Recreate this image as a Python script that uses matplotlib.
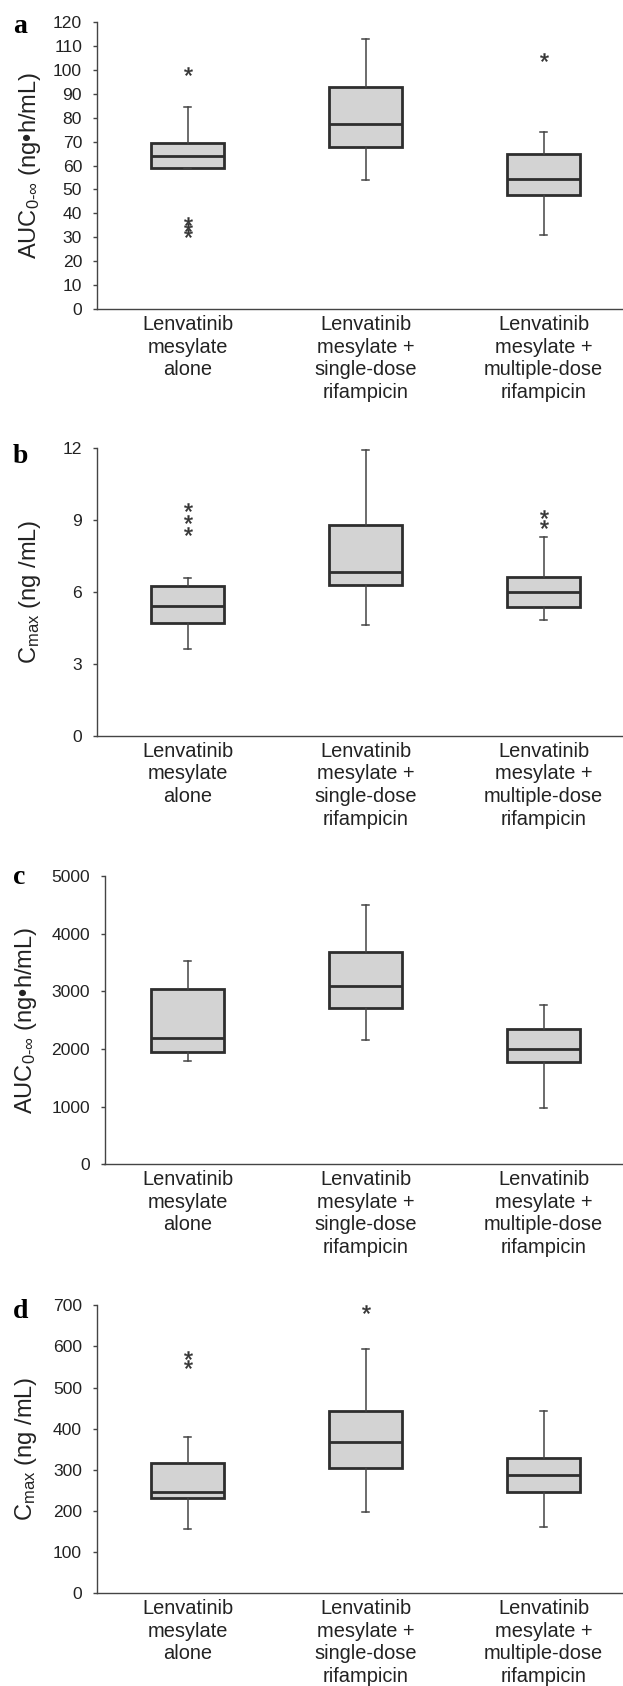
import matplotlib
matplotlib.use("Agg")
import matplotlib.pyplot as plt

plt.rcParams["font.family"] = ["Liberation Sans", "DejaVu Sans"]
plt.rcParams["mathtext.fontset"] = "custom"
plt.rcParams["mathtext.rm"] = "Liberation Sans"
plt.rcParams["mathtext.it"] = "Liberation Sans:italic"
plt.rcParams["mathtext.bf"] = "Liberation Sans:bold"

groups = ["Lenvatinib\nmesylate\nalone",
          "Lenvatinib\nmesylate +\nsingle-dose\nrifampicin",
          "Lenvatinib\nmesylate +\nmultiple-dose\nrifampicin"]

# a: AUC0-inf (ng*h/mL)
a_lo = [59.1, 53.9, 30.9]
a_q1 = [59.1, 67.6, 47.8]
a_med = [63.8, 77.3, 54.5]
a_q3 = [69.5, 92.6, 64.8]
a_hi = [84.3, 112.6, 73.8]
a_out = [[99.3, 37.0, 34.5, 32.0], [], [105.4]]

# b: Cmax (ng/mL)
b_lo = [3.64, 4.63, 4.84]
b_q1 = [4.73, 6.30, 5.40]
b_med = [5.44, 6.86, 5.99]
b_q3 = [6.24, 8.79, 6.62]
b_hi = [6.59, 11.93, 8.32]
b_out = [[9.57, 9.04, 8.53], [], [9.25, 8.85]]

# c: AUC0-inf (ng*h/mL)
c_lo = [1792, 2150, 971]
c_q1 = [1954, 2717, 1769]
c_med = [2191, 3087, 1994]
c_q3 = [3040, 3682, 2341]
c_hi = [3532, 4497, 2757]
c_out = [[], [], []]

# d: Cmax (ng/mL)
d_lo = [155.6, 197, 161]
d_q1 = [231, 304.7, 245.5]
d_med = [246.4, 367, 287]
d_q3 = [317.6, 443.3, 329]
d_hi = [379, 594, 443]
d_out = [[578.6, 557.5], [692], []]

auc_label = r"AUC$_{0\text{-}\infty}$ (ng•h/mL)"
cmax_label = r"C$_{\mathrm{max}}$ (ng /mL)"

W, H = 623, 1686
# letter, data, ylabel, yticks, spine x px, top px, bottom px, ylabel baseline x px, letter baseline px
panels = [
    ("a", (a_lo, a_q1, a_med, a_q3, a_hi, a_out), auc_label, range(0, 121, 10), 96.7, 21.7, 309.3, 36, 33),
    ("b", (b_lo, b_q1, b_med, b_q3, b_hi, b_out), cmax_label, range(0, 13, 3), 96.5, 448.3, 736.0, 36, 463),
    ("c", (c_lo, c_q1, c_med, c_q3, c_hi, c_out), auc_label, range(0, 5001, 1000), 104.5, 876.0, 1164.3, 32, 884),
    ("d", (d_lo, d_q1, d_med, d_q3, d_hi, d_out), cmax_label, range(0, 701, 100), 96.5, 1305.3, 1593.3, 32, 1318),
]

CENTER1 = 187.7   # px of first box
STEP = 178.0      # px between boxes
edge = "#2e2e2e"

fig = plt.figure(figsize=(W / 100, H / 100), dpi=100)

for letter, (lo, q1, med, q3, hi, out), ylab, yticks, sx, top, bot, lx, ly in panels:
    ax = fig.add_axes([sx / W, 1 - bot / H, (W - sx) / W, (bot - top) / H])
    stats = [dict(whislo=lo[i], q1=q1[i], med=med[i], q3=q3[i], whishi=hi[i], fliers=out[i])
             for i in range(3)]
    ax.bxp(stats, positions=[1, 2, 3], widths=0.41, capwidths=0.04, patch_artist=True,
           boxprops=dict(facecolor="#d3d3d3", edgecolor=edge, linewidth=2.0),
           medianprops=dict(color=edge, linewidth=2.0),
           whiskerprops=dict(color="#444444", linewidth=1.1),
           capprops=dict(color="#444444", linewidth=1.1),
           flierprops=dict(marker="$*$", markersize=6, markerfacecolor="#333333",
                           markeredgecolor="#333333", markeredgewidth=0.3, linestyle="none"))
    ax.set_xlim(1 - (CENTER1 - sx) / STEP, 1 + (W - CENTER1) / STEP)
    ax.set_ylim(min(yticks), max(yticks))
    ax.set_yticks(list(yticks))
    ax.set_xticks([1, 2, 3])
    ax.set_xticklabels(groups, fontsize=14.4, color="#222222", linespacing=1.25)
    ax.tick_params(axis="x", length=0, pad=4)
    ax.tick_params(axis="y", length=3, width=1, color="#444444", labelsize=12.6,
                   labelcolor="#222222", pad=7.5)
    for s in ["top", "right"]:
        ax.spines[s].set_visible(False)
    for s in ["left", "bottom"]:
        ax.spines[s].set_color("#444444")
        ax.spines[s].set_linewidth(1.0)
    ax.set_ylabel(ylab, fontsize=17, color="#222222", va="baseline")
    ax.yaxis.set_label_coords((lx - sx) / (W - sx), 0.5)
    fig.text(13 / W, 1 - ly / H, letter, fontsize=20, fontweight="bold",
             family="Liberation Serif", va="baseline", ha="left")

fig.savefig("out.png", dpi=100)
